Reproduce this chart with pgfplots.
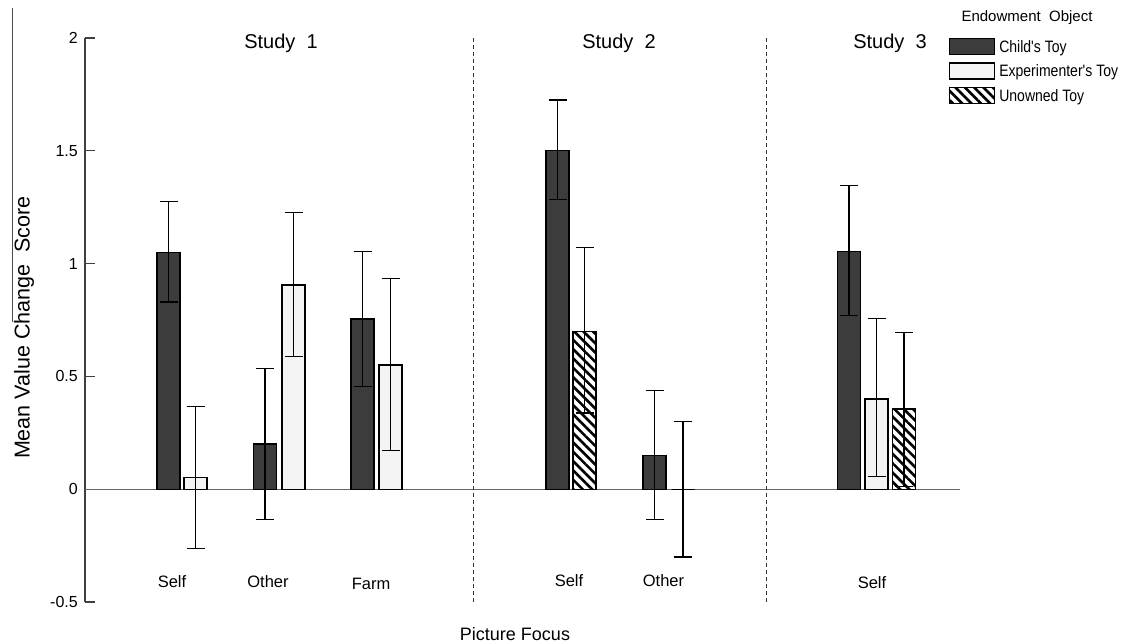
\documentclass[border=0pt]{standalone}
\usepackage{fontspec}
\setmainfont{Liberation Sans}
\newfontfamily\narrowfont[FakeStretch=0.85]{Liberation Sans}
\usepackage{pgfplots}
\usepackage{pgfplotstable}
\pgfplotsset{compat=1.18}
\usetikzlibrary{patterns.meta}

\definecolor{darkbar}{HTML}{3C3C3C}
\definecolor{lightbar}{HTML}{F4F4F4}

% x = horizontal position of the bar, y = mean, ep/em = error bar up/down
\pgfplotstableread{
x y ep em
168.5 1.05 0.225 0.22
265 0.20 0.335 0.335
362.5 0.755 0.30 0.30
557.5 1.50 0.225 0.215
654.5 0.148 0.288 0.283
849 1.055 0.29 0.285
}\childtoy

\pgfplotstableread{
x y ep em
195.5 0.053 0.314 0.315
293.5 0.905 0.32 0.317
390.5 0.55 0.385 0.38
876.5 0.40 0.357 0.345
}\exptoy

\pgfplotstableread{
x y ep em
584.5 0.70 0.37 0.362
683 0.0 0.30 0.30
904 0.356 0.34 0.345
}\unownedtoy

\begin{document}
\begin{tikzpicture}
\useasboundingbox (0,0) rectangle (1122pt,644pt);
\begin{axis}[
  at={(85pt,42pt)}, anchor=south west,
  scale only axis, width=875pt, height=564pt,
  xmin=85, xmax=960, ymin=-0.5, ymax=2,
  axis x line=none, axis y line*=left,
  y axis line style={draw=black!75, line width=1.3pt},
  ytick={-0.5,0,0.5,1,1.5,2},
  yticklabels={-0.5,0,0.5,1,1.5,2},
  tick align=inside, major tick length=10pt,
  tick style={draw=black!75, line width=1.3pt},
  yticklabel style={font=\fontsize{16}{18}\selectfont, anchor=east, inner sep=0pt, xshift=-7pt},
  ybar, bar width=23, bar shift=0pt,
  clip=false,
  legend cell align=left,
  legend style={at={(0.9874,1.0)}, anchor=north west, draw=none, fill=none,
    inner sep=0pt, outer sep=0pt, row sep=7pt, column sep=4pt,
    font=\narrowfont\fontsize{16.5}{18}\selectfont,
    nodes={inner sep=0pt, text height=11.5pt, text depth=2.5pt}},
  every axis plot/.append style={
    line width=1.3pt,
    legend image code/.code={\draw[##1, line width=1.3pt] (0pt,-6.5pt) rectangle (45pt,9.5pt);},
  },
  mybars/.style={
    /pgfplots/error bars/y dir=both,
    /pgfplots/error bars/y explicit,
    /pgfplots/error bars/error bar style={black, line width=1.3pt},
    /pgfplots/error bars/error mark options={black, line width=1.3pt, mark size=9pt, rotate=90},
  },
]
\draw[black!60, line width=1.3pt] (axis cs:85,0) -- (axis cs:960,0);

\addplot[draw=black, fill=darkbar, mybars]
  table[x=x, y=y, y error plus=ep, y error minus=em] {\childtoy};
\addplot[draw=black, fill=lightbar, mybars]
  table[x=x, y=y, y error plus=ep, y error minus=em] {\exptoy};
\addplot[draw=black, pattern={Lines[angle=-45, distance=6.6pt, line width=2.6pt]}, pattern color=black, mybars]
  table[x=x, y=y, y error plus=ep, y error minus=em] {\unownedtoy};
\legend{Child's Toy, Experimenter's Toy, Unowned Toy}

\draw[black!80, line width=1pt, dash pattern=on 4pt off 3pt] (axis cs:473,-0.5) -- (axis cs:473,2);
\draw[black!80, line width=1pt, dash pattern=on 4pt off 3pt] (axis cs:766,-0.5) -- (axis cs:766,2);
\draw[black!70, line width=1pt] (axis cs:13,2.132) -- (axis cs:13,0.74);

\node[font=\fontsize{20}{24}\selectfont] at (axis cs:281,1.977) {Study\ \ 1};
\node[font=\fontsize{20}{24}\selectfont] at (axis cs:619,1.977) {Study\ \ 2};
\node[font=\fontsize{20}{24}\selectfont] at (axis cs:890,1.977) {Study\ \ 3};

\node[font=\fontsize{16.5}{18}\selectfont] at (axis cs:172,-0.408) {Self};
\node[font=\fontsize{16.5}{18}\selectfont] at (axis cs:268,-0.408) {Other};
\node[font=\fontsize{16.5}{18}\selectfont] at (axis cs:371,-0.421) {Farm};
\node[font=\fontsize{16.5}{18}\selectfont] at (axis cs:569,-0.403) {Self};
\node[font=\fontsize{16.5}{18}\selectfont] at (axis cs:663.5,-0.403) {Other};
\node[font=\fontsize{16.5}{18}\selectfont] at (axis cs:872,-0.412) {Self};

\node[font=\fontsize{18}{22}\selectfont] at (axis cs:515,-0.643) {Picture Focus};
\node[font=\fontsize{21.5}{24}\selectfont, rotate=90] at (axis cs:24,0.716) {Mean Value Change\ \ Score};
\node[font=\fontsize{15}{17}\selectfont] at (axis cs:1027,2.092) {Endowment\ \ Object};
\end{axis}
\end{tikzpicture}
\end{document}
